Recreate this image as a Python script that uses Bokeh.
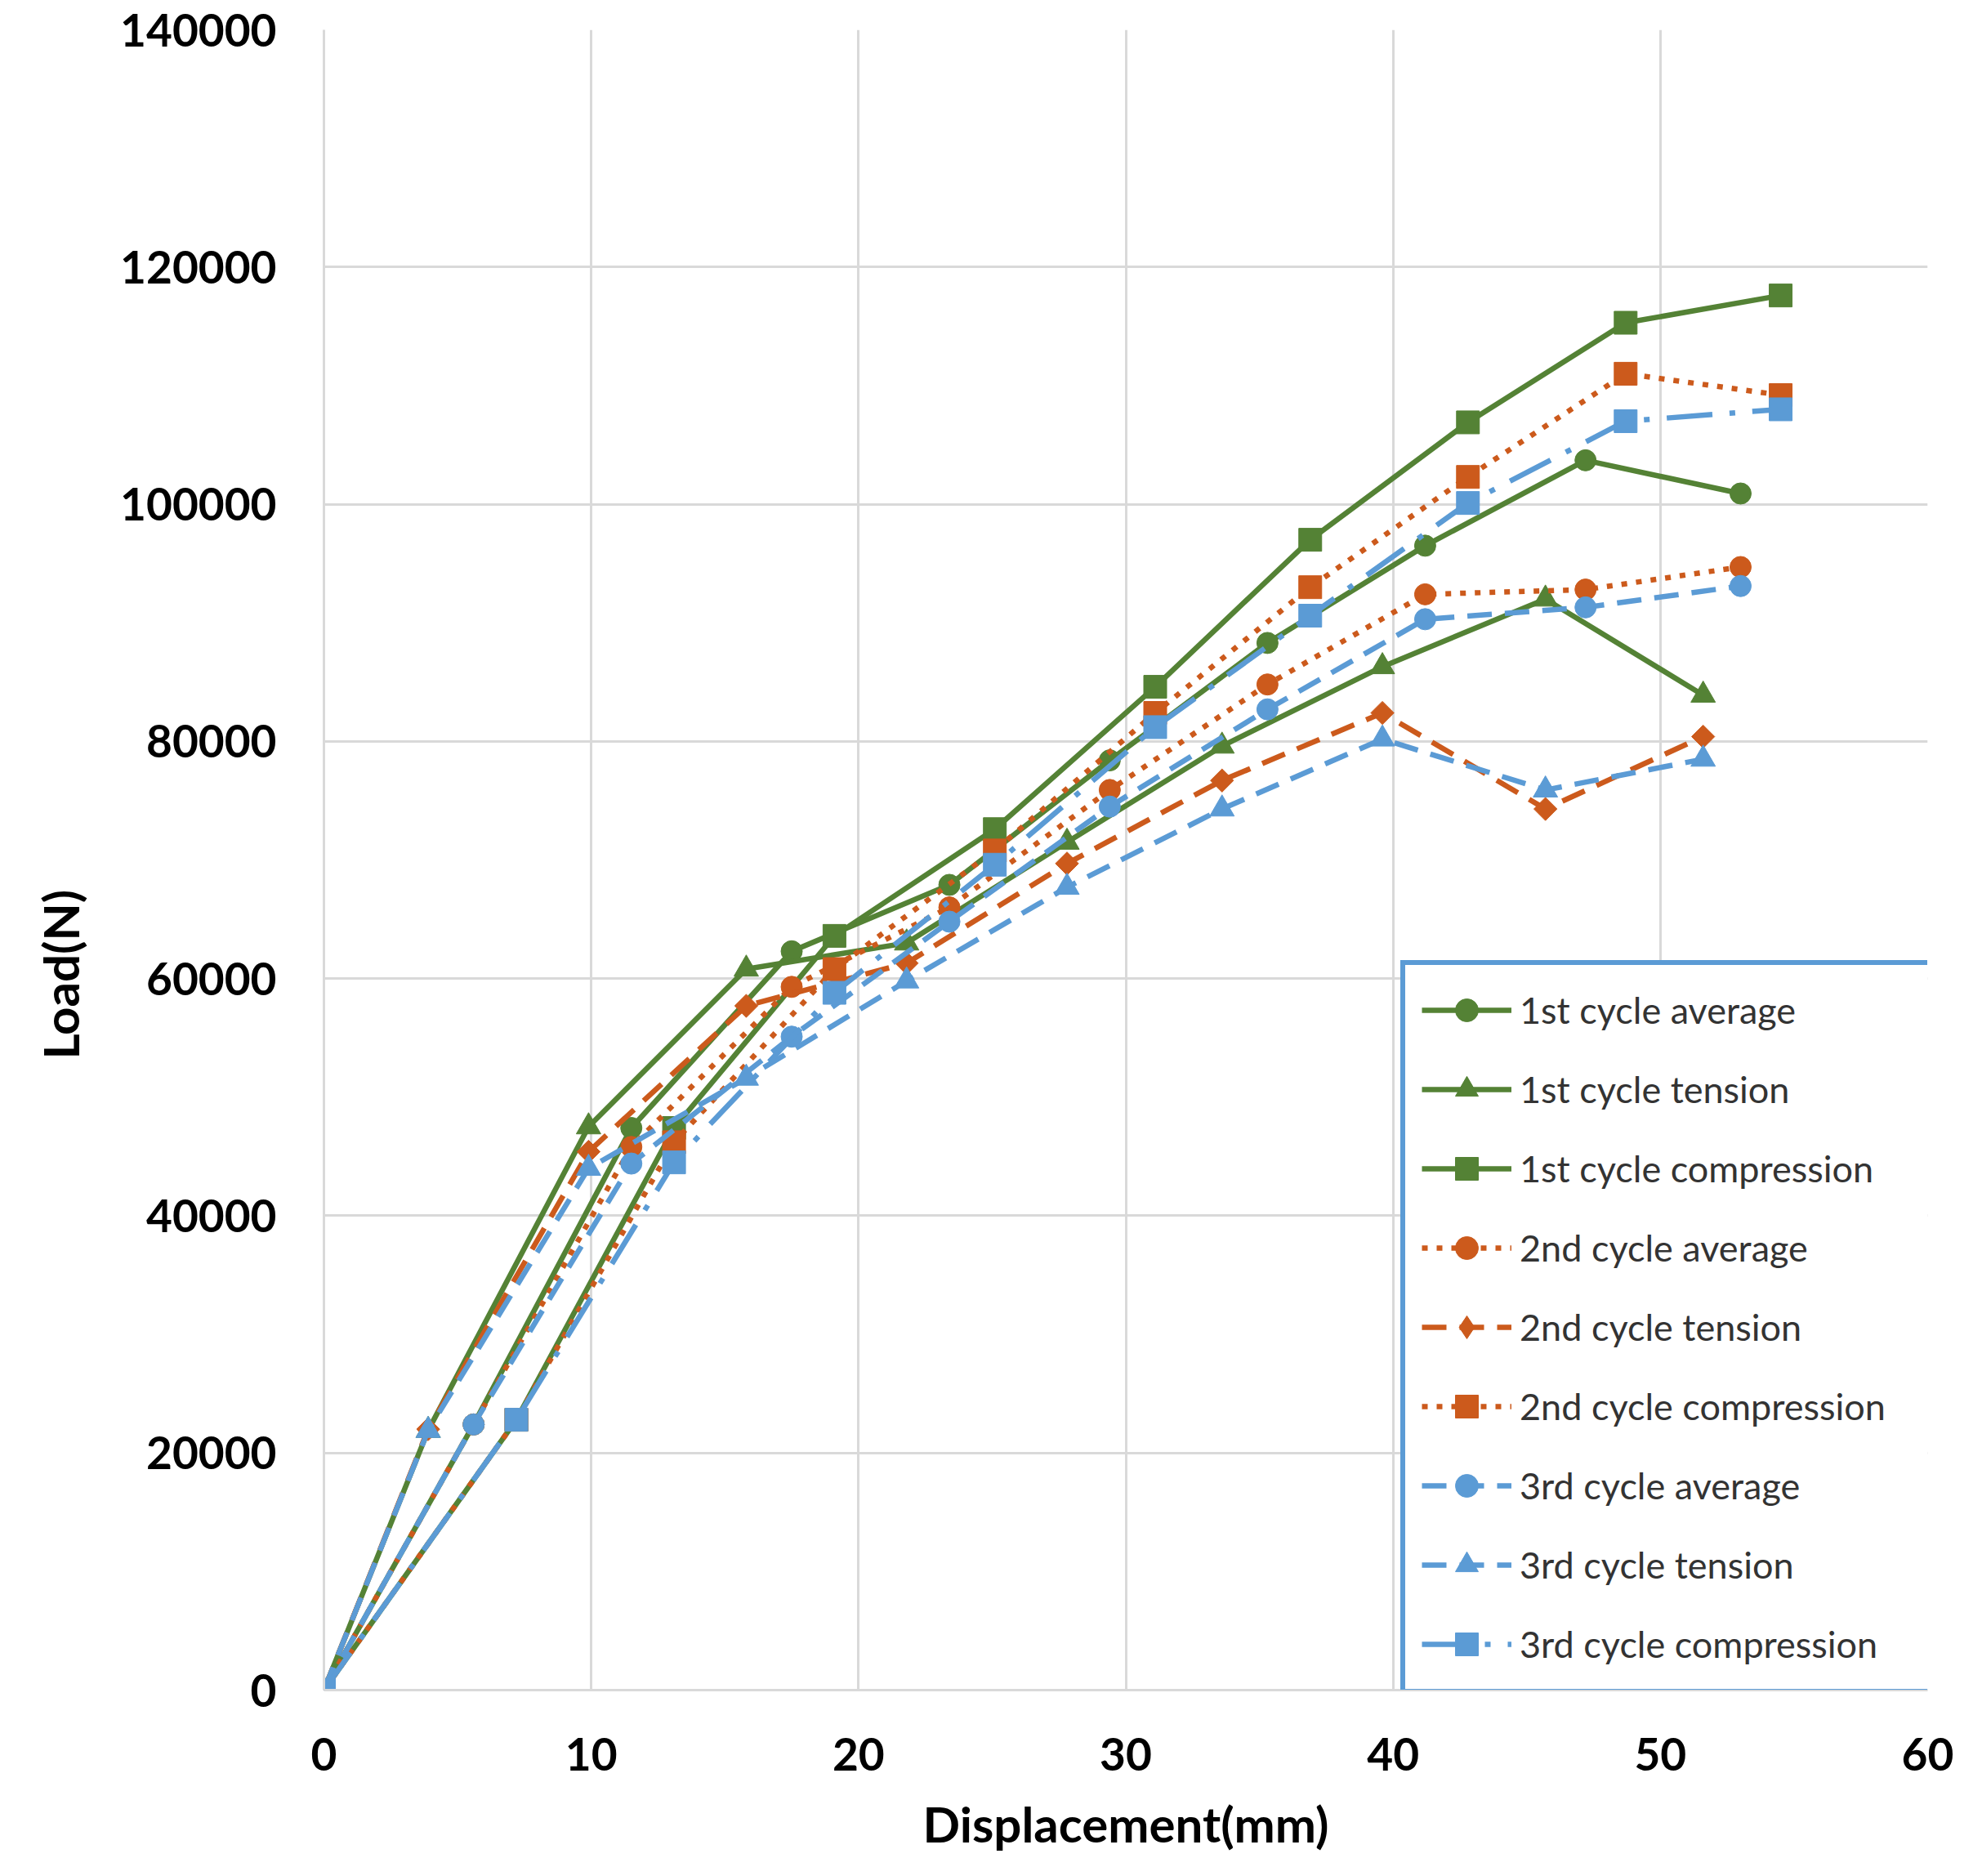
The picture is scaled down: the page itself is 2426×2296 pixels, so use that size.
import math
from bokeh.plotting import figure
from bokeh.models import FixedTicker, Legend, LegendItem, Title, Range1d
from bokeh.embed import file_html
from bokeh.resources import INLINE

# ---- data ----
x_tension = [0, 3.9, 9.9, 15.8, 21.8, 27.8, 33.6, 39.6, 45.7, 51.6]
x_average = [0, 5.6, 11.5, 17.5, 23.4, 29.4, 35.3, 41.2, 47.2, 53.0]
x_compression = [0, 7.2, 13.1, 19.1, 25.1, 31.1, 36.9, 42.8, 48.7, 54.5]

c1_average = [0, 22400, 47400, 62300, 67900, 78400, 88300, 96500, 103700, 100900]
c1_tension = [0, 21900, 47500, 60800, 63000, 71500, 79600, 86300, 92000, 83900]
c1_compression = [0, 22800, 47400, 63600, 72600, 84600, 97000, 106900, 115300, 117600]
c2_average = [0, 22400, 45800, 59300, 66000, 75900, 84800, 92400, 92800, 94700]
c2_tension = [0, 22000, 45400, 57700, 61300, 69700, 76700, 82400, 74300, 80400]
c2_compression = [0, 22800, 46200, 60800, 70800, 82400, 93000, 102300, 111000, 109200]
c3_average = [0, 22400, 44400, 55100, 64800, 74500, 82700, 90300, 91300, 93100]
c3_tension = [0, 21900, 44000, 51600, 59800, 67700, 74300, 80200, 75900, 78500]
c3_compression = [0, 22800, 44500, 58800, 69600, 81200, 90600, 100100, 107000, 108000]

x_ticks = [0, 10, 20, 30, 40, 50, 60]
y_ticks = [0, 20000, 40000, 60000, 80000, 100000, 120000, 140000]

GREEN = "#548235"
ORANGE = "#CC5A1C"
BLUE = "#5B9BD5"
FONT = "Lato"

p = figure(width=2410, height=2280, output_backend="svg", toolbar_location=None,
           x_range=Range1d(0, 60), y_range=Range1d(0, 140000),
           min_border_left=396, min_border_right=51, min_border_top=36,
           min_border_bottom=212, background_fill_color="white",
           border_fill_color="white")
p.outline_line_color = None

series = [
    ("1st cycle average", x_average, c1_average, GREEN, "solid", "circle", 26, 0),
    ("1st cycle tension", x_tension, c1_tension, GREEN, "solid", "triangle", 30, 0),
    ("1st cycle compression", x_compression, c1_compression, GREEN, "solid", "square", 28, 0),
    ("2nd cycle average", x_average, c2_average, ORANGE, "7 11", "circle", 26, 0),
    ("2nd cycle tension", x_tension, c2_tension, ORANGE, "30 16", "square", 20, math.pi / 4),
    ("2nd cycle compression", x_compression, c2_compression, ORANGE, "7 11", "square", 28, 0),
    ("3rd cycle average", x_average, c3_average, BLUE, "30 16", "circle", 26, 0),
    ("3rd cycle tension", x_tension, c3_tension, BLUE, "30 16", "triangle", 30, 0),
    ("3rd cycle compression", x_compression, c3_compression, BLUE, "56 21 7 21", "square", 28, 0),
]

items = []
for label, xs, ys, color, dash, marker, size, ang in series:
    l = p.line(xs, ys, line_color=color, line_width=6.5, line_dash=dash, line_cap="butt",
               line_join="round")
    s = p.scatter(xs, ys, marker=marker, size=size, angle=ang, fill_color=color,
                  line_color=color, line_width=1)
    rs = [l, s]
    if ang != 0:
        # legend sample shows an upright diamond (not drawn in the plot area)
        d = p.scatter([float("nan")], [float("nan")], marker="diamond", size=size,
                      fill_color=color, line_color=color)
        rs = [l, d]
    items.append(LegendItem(label=label, renderers=rs))

# axes
p.xaxis.ticker = FixedTicker(ticks=x_ticks)
p.yaxis.ticker = FixedTicker(ticks=y_ticks)
for ax in (p.xaxis[0], p.yaxis[0]):
    ax.major_tick_line_color = None
    ax.minor_tick_line_color = None
    ax.axis_line_color = "#D9D9D9"
    ax.axis_line_width = 3
    ax.major_label_text_font = FONT
    ax.major_label_text_font_style = "bold"
    ax.major_label_text_font_size = "55px"
    ax.major_label_text_color = "#000000"
p.yaxis.major_label_standoff = 52
p.xaxis.major_label_standoff = 52
p.yaxis.formatter.use_scientific = False

p.xaxis.axis_label = "Displacement(mm)"
p.xaxis.axis_label_text_font = FONT
p.xaxis.axis_label_text_font_style = "bold"
p.xaxis.axis_label_text_font_size = "60px"
p.xaxis.axis_label_text_color = "#000000"
p.xaxis.axis_label_standoff = 26

ytitle = Title(text="Load(N)", align="left", offset=772, standoff=69,
               text_font=FONT, text_font_style="bold", text_font_size="60px",
               text_color="#000000")
p.add_layout(ytitle, "left")

p.xgrid.grid_line_color = "#D9D9D9"
p.ygrid.grid_line_color = "#D9D9D9"
p.xgrid.grid_line_width = 3
p.ygrid.grid_line_width = 3

legend = Legend(items=items, location=(1318, -5))
legend.border_line_color = BLUE
legend.border_line_alpha = 1
legend.border_line_width = 6
legend.background_fill_color = "white"
legend.background_fill_alpha = 1
legend.padding = 20
legend.spacing = 27
legend.glyph_width = 110
legend.glyph_height = 70
legend.label_height = 40
legend.label_width = 484
legend.label_standoff = 10
legend.label_text_font = FONT
legend.label_text_font_size = "45px"
legend.label_text_color = "#333333"
legend.margin = 0
p.add_layout(legend)

open("out.html", "w").write(file_html(p, INLINE))
